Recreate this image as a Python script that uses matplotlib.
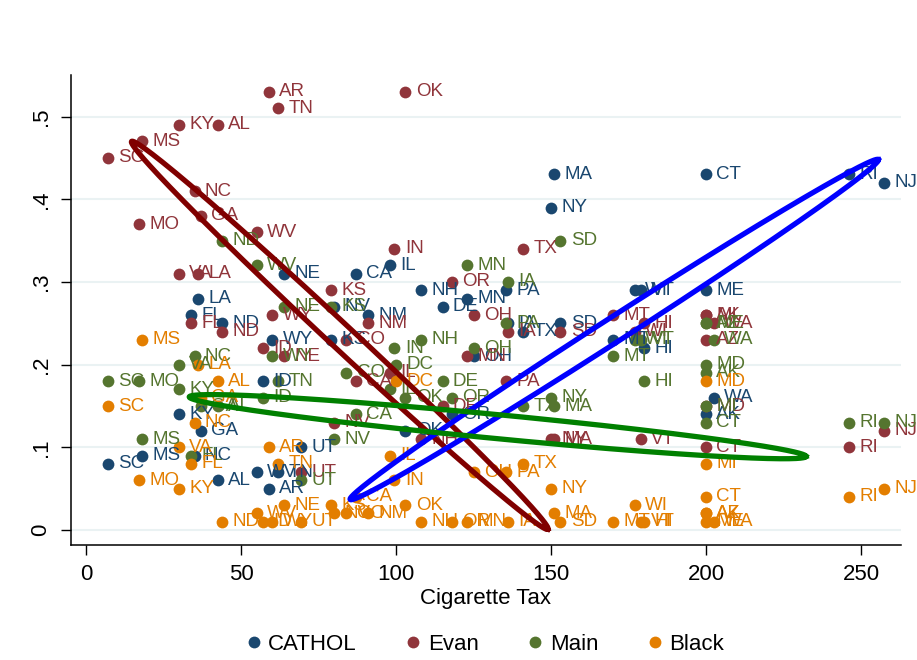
import numpy as np
import matplotlib
matplotlib.use("Agg")
import matplotlib.pyplot as plt
from matplotlib.lines import Line2D

# ---------------- data ----------------
# cigarette tax (cents) per state
TAX = {
    "SC": 7, "MO": 17, "MS": 18, "KY": 30, "VA": 30, "FL": 33.9, "NC": 35,
    "LA": 36, "GA": 37, "AL": 42.5, "ND": 44, "WV": 55, "ID": 57, "AR": 59,
    "WY": 60, "TN": 62, "NE": 64, "UT": 69.5, "KS": 79, "NV": 80, "CO": 84,
    "CA": 87, "NM": 91, "IL": 98, "IN": 99.5, "DC": 100, "OK": 103, "NH": 108,
    "DE": 115, "OR": 118, "MN": 123, "OH": 125, "PA": 135.5, "IA": 136,
    "TX": 141, "NY": 150, "MA": 151, "SD": 153, "MT": 170, "WI": 177,
    "VT": 179, "HI": 180, "MD": 200, "CT": 200, "ME": 200, "AK": 200,
    "AZ": 200, "MI": 200, "WA": 202.5, "RI": 246, "NJ": 257.5,
}

cathol_states = ["MA", "CT", "RI", "NJ", "NY", "IL", "CA", "NE", "LA", "FL",
                 "ND", "WY", "NH", "PA", "MN", "DE", "NM", "VT", "WI", "ME",
                 "SD", "MT", "HI", "WA", "AK", "ID", "KY", "GA", "UT", "MS",
                 "SC", "NC", "AL", "WV", "AR", "TN", "OK", "KS", "IA", "TX",
                 "OH", "OR", "NV"]
cathol_vals = [0.43, 0.43, 0.43, 0.42, 0.39, 0.32, 0.31, 0.31, 0.28, 0.26,
               0.25, 0.23, 0.29, 0.29, 0.28, 0.27, 0.26, 0.29, 0.29, 0.29,
               0.25, 0.23, 0.22, 0.16, 0.14, 0.18, 0.14, 0.12, 0.10, 0.09,
               0.08, 0.09, 0.06, 0.07, 0.05, 0.07, 0.12, 0.23, 0.25, 0.24,
               0.21, 0.14, 0.27]

evan_states = ["AR", "TN", "OK", "KY", "AL", "MS", "SC", "NC", "GA", "MO",
               "WV", "VA", "LA", "WY", "FL", "ND", "ID", "NE", "IN", "OR",
               "KS", "NM", "OH", "IA", "CO", "MN", "CA", "PA", "DE", "NV",
               "NH", "IL", "UT", "TX", "SD", "MT", "HI", "WI", "MI", "AK",
               "WA", "AZ", "MD", "CT", "VT", "NY", "MA", "NJ", "RI"]
evan_vals = [0.53, 0.51, 0.53, 0.49, 0.49, 0.47, 0.45, 0.41, 0.38, 0.37,
             0.36, 0.31, 0.31, 0.26, 0.25, 0.24, 0.22, 0.21, 0.34, 0.30,
             0.29, 0.25, 0.26, 0.24, 0.23, 0.21, 0.18, 0.18, 0.15, 0.13,
             0.11, 0.19, 0.07, 0.34, 0.24, 0.26, 0.25, 0.24, 0.26, 0.26,
             0.25, 0.23, 0.15, 0.10, 0.11, 0.11, 0.11, 0.12, 0.10]

main_states = ["SD", "ND", "WV", "NE", "WY", "NC", "VA", "SC", "MO", "TN",
               "KY", "GA", "AL", "ID", "MS", "FL", "UT", "DE", "OK", "OR",
               "CA", "NV", "MN", "IA", "KS", "PA", "NH", "IN", "OH", "DC",
               "CO", "IL", "TX", "NY", "MA", "WI", "VT", "MT", "HI", "MD",
               "AK", "ME", "AZ", "WA", "MI", "CT", "RI", "NJ"]
main_vals = [0.35, 0.35, 0.32, 0.27, 0.21, 0.21, 0.20, 0.18, 0.18, 0.18,
             0.17, 0.15, 0.15, 0.16, 0.11, 0.09, 0.06, 0.18, 0.16, 0.16,
             0.14, 0.11, 0.32, 0.30, 0.27, 0.25, 0.23, 0.22, 0.22, 0.20,
             0.19, 0.17, 0.15, 0.16, 0.15, 0.23, 0.23, 0.21, 0.18, 0.20,
             0.19, 0.25, 0.25, 0.23, 0.15, 0.13, 0.13, 0.13]

black_states = ["MS", "LA", "AL", "SC", "GA", "NC", "VA", "FL", "MO", "KY",
                "AR", "TN", "NE", "WV", "ND", "ID", "WY", "UT", "IL", "IN",
                "OH", "PA", "TX", "KS", "CA", "NV", "CO", "NM", "OK", "NH",
                "OR", "MN", "IA", "DC", "MD", "MI", "CT", "AK", "AZ", "ME",
                "WA", "NY", "WI", "MA", "SD", "MT", "VT", "HI", "RI", "NJ"]
black_vals = [0.23, 0.20, 0.18, 0.15, 0.16, 0.13, 0.10, 0.08, 0.06, 0.05,
              0.10, 0.08, 0.03, 0.02, 0.01, 0.01, 0.01, 0.01, 0.09, 0.06,
              0.07, 0.07, 0.08, 0.03, 0.04, 0.02, 0.02, 0.02, 0.03, 0.01,
              0.01, 0.01, 0.01, 0.18, 0.18, 0.08, 0.04, 0.02, 0.02, 0.01,
              0.01, 0.05, 0.03, 0.02, 0.01, 0.01, 0.01, 0.01, 0.04, 0.05]

series_names = ["CATHOL", "Evan", "Main", "Black"]
series_colors = ["#1a476f", "#90353b", "#55752f", "#e37e00"]

# ellipses: two tips of the major axis (data units) and colour
ellipse_tips = [
    [(14.7, 0.470), (149.0, 0.001)],
    [(85.2, 0.037), (255.6, 0.448)],
    [(33.3, 0.161), (232.3, 0.089)],
]
ellipse_colors = ["#800000", "#0000ff", "#008000"]
ellipse_halfwidth_px = 12.0

x_ticks = [0, 50, 100, 150, 200, 250]
y_ticks = [0, 0.1, 0.2, 0.3, 0.4, 0.5]
y_ticklabels = ["0", ".1", ".2", ".3", ".4", ".5"]

# ---------------- plot ----------------
plt.rcParams["font.family"] = ["Liberation Sans", "DejaVu Sans"]

W, H = 917, 660
fig = plt.figure(figsize=(W / 100, H / 100), dpi=100)
fig.patch.set_facecolor("white")
ax = fig.add_axes([71 / W, 1 - 545 / H, (901 - 71) / W, (545 - 75) / H])
ax.set_xlim(-4.84, 262.9)
ax.set_ylim(-0.0181, 0.5503)

for y in y_ticks:
    ax.axhline(y, color="#eaf2f3", lw=1.5, zorder=0)

all_series = [
    (cathol_states, cathol_vals),
    (evan_states, evan_vals),
    (main_states, main_vals),
    (black_states, black_vals),
]
for (states, vals), name, col in zip(all_series, series_names, series_colors):
    xs = [TAX[s] for s in states]
    ax.scatter(xs, vals, s=72, color=col, linewidths=0, zorder=3, label=name)
    for s, x, y in zip(states, xs, vals):
        ax.annotate(s, (x, y), xytext=(7.5, 0), textcoords="offset points",
                    ha="left", va="center", fontsize=13.5, color=col,
                    zorder=4, annotation_clip=False)

# ellipses computed in display space so the minor axis is a fixed pixel width
fig.canvas.draw()
t = np.linspace(0, 2 * np.pi, 400)
for tips, col in zip(ellipse_tips, ellipse_colors):
    p1 = ax.transData.transform(tips[0])
    p2 = ax.transData.transform(tips[1])
    c = (p1 + p2) / 2
    a = (p2 - p1) / 2
    n = np.array([-a[1], a[0]]) / np.linalg.norm(a) * ellipse_halfwidth_px
    pts = c[None, :] + np.outer(np.cos(t), a) + np.outer(np.sin(t), n)
    d = ax.transData.inverted().transform(pts)
    ax.plot(d[:, 0], d[:, 1], color=col, lw=3.8, zorder=5,
            solid_joinstyle="round")

for sp in ["top", "right"]:
    ax.spines[sp].set_visible(False)
for sp in ["left", "bottom"]:
    ax.spines[sp].set_linewidth(1.1)
    ax.spines[sp].set_color("black")

ax.set_xticks(x_ticks)
ax.set_xticklabels([str(v) for v in x_ticks], fontsize=16)
ax.set_yticks(y_ticks)
ax.set_yticklabels(y_ticklabels, fontsize=16, rotation=90, va="center")
ax.tick_params(axis="both", length=7, width=1.0, pad=7)
ax.set_xlabel("Cigarette Tax", fontsize=16, labelpad=2)

handles = [Line2D([], [], ls="none", marker="o", markersize=8.5, color=c,
                  markeredgewidth=0) for c in series_colors]
fig.legend(handles, series_names, loc="center", ncol=4, frameon=False,
           fontsize=16, bbox_to_anchor=(0.527, 0.024), columnspacing=2.05,
           handletextpad=0.15, handlelength=1.0)

fig.savefig("out.png", dpi=100, facecolor="white")
